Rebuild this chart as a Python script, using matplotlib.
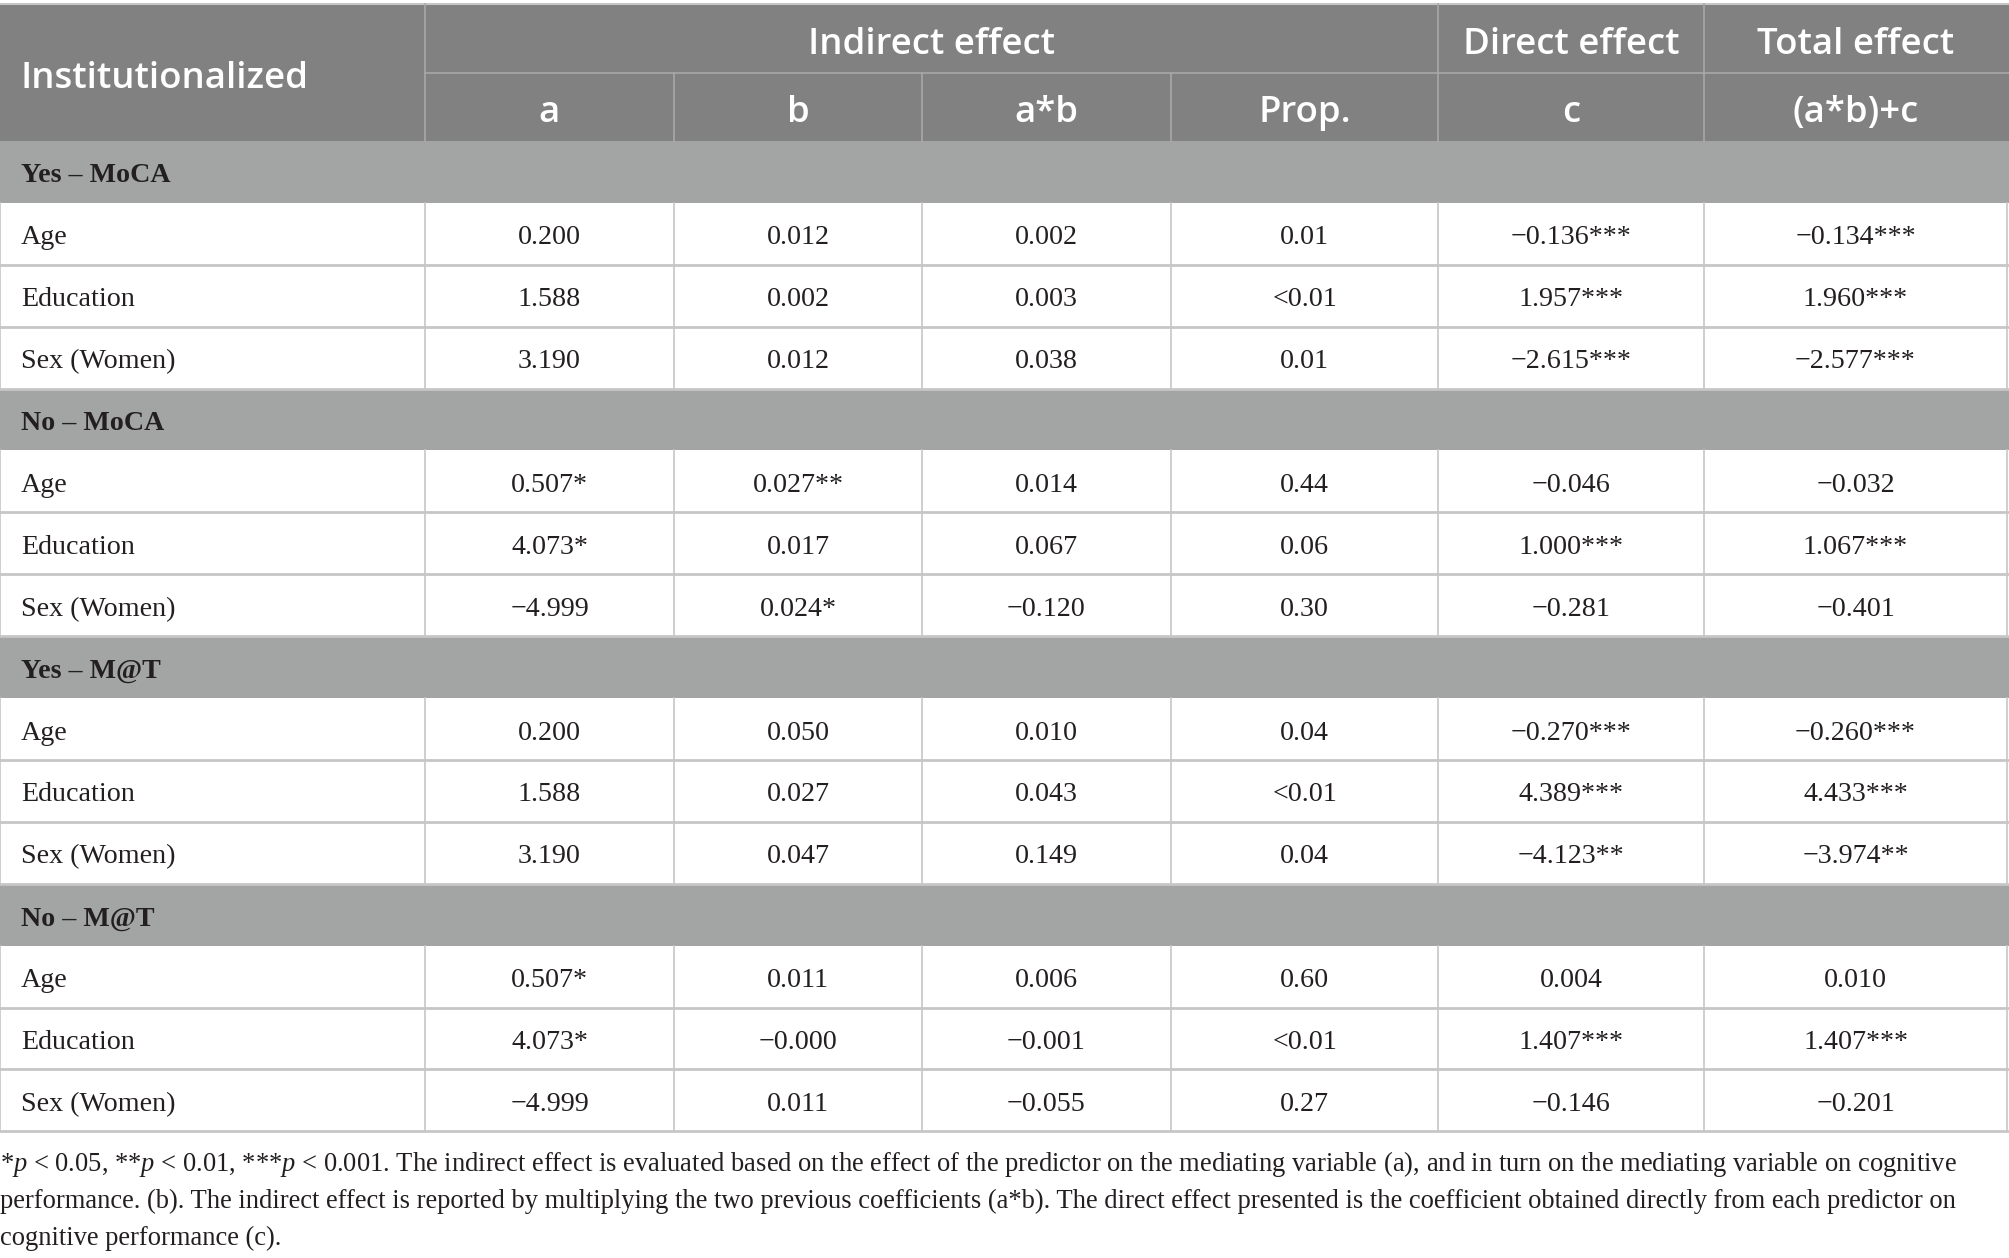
import matplotlib
matplotlib.use("Agg")
import matplotlib.pyplot as plt
from matplotlib.patches import Rectangle

plt.rcParams['mathtext.fontset'] = 'custom'
plt.rcParams['mathtext.rm'] = 'Liberation Serif'
plt.rcParams['mathtext.it'] = 'Liberation Serif:italic'

# table content
groups = ['Yes – MoCA', 'No – MoCA', 'Yes – M@T', 'No – M@T']
predictors = ['Age', 'Education', 'Sex (Women)']

a_vals = ['0.200', '1.588', '3.190',
          '0.507*', '4.073*', '−4.999',
          '0.200', '1.588', '3.190',
          '0.507*', '4.073*', '−4.999']
b_vals = ['0.012', '0.002', '0.012',
          '0.027**', '0.017', '0.024*',
          '0.050', '0.027', '0.047',
          '0.011', '−0.000', '0.011']
ab_vals = ['0.002', '0.003', '0.038',
           '0.014', '0.067', '−0.120',
           '0.010', '0.043', '0.149',
           '0.006', '−0.001', '−0.055']
prop_vals = ['0.01', '<0.01', '0.01',
             '0.44', '0.06', '0.30',
             '0.04', '<0.01', '0.04',
             '0.60', '<0.01', '0.27']
c_vals = ['−0.136***', '1.957***', '−2.615***',
          '−0.046', '1.000***', '−0.281',
          '−0.270***', '4.389***', '−4.123**',
          '0.004', '1.407***', '−0.146']
total_vals = ['−0.134***', '1.960***', '−2.577***',
              '−0.032', '1.067***', '−0.401',
              '−0.260***', '4.433***', '−3.974**',
              '0.010', '1.407***', '−0.201']

sub_headers = ['a', 'b', 'a*b', 'Prop.', 'c', '(a*b)+c']

footnote = [
    '*$p$ < 0.05, **$p$ < 0.01, ***$p$ < 0.001. The indirect effect is evaluated based on the effect of the predictor on the mediating variable (a), and in turn on the mediating variable on cognitive',
    'performance. (b). The indirect effect is reported by multiplying the two previous coefficients (a*b). The direct effect presented is the coefficient obtained directly from each predictor on',
    'cognitive performance (c).',
]

W, H = 2009, 1258
fig = plt.figure(figsize=(W / 100, H / 100), dpi=100)
ax = fig.add_axes([0, 0, 1, 1])
ax.set_xlim(0, W)
ax.set_ylim(H, 0)
ax.axis('off')

head_dark = '#808180'
sect_gray = '#a3a5a4'
grid_col = '#c6c6c6'
txt_col = '#231f20'
px = 0.72  # px -> pt at dpi 100

col_x = [0, 425, 674, 922, 1171, 1438, 1704, W - 2]
top, head_mid, head_bot = 4, 73, 141
row_h = 61.9

# header background
ax.add_patch(Rectangle((0, top), W, head_bot - top, color=head_dark, lw=0))
ax.plot([0, W], [top, top], color=grid_col, lw=1.5)
ax.plot([col_x[1], W], [head_mid, head_mid], color='#a8a8a8', lw=1.2)
for i, x in enumerate(col_x[1:-1], start=1):
    y0 = top if i in (1, 5, 6) else head_mid
    ax.plot([x, x], [y0, head_bot], color='#a8a8a8', lw=1.2)

hfont = dict(family='Open Sans', color='white', fontsize=36.5 * px, va='center',
             fontweight='semibold')
ax.text(21, (top + head_bot) / 2 + 6, 'Institutionalized', ha='left', **hfont)
ax.text((col_x[1] + col_x[5]) / 2, (top + head_mid) / 2 + 6, 'Indirect effect', ha='center', **hfont)
ax.text((col_x[5] + col_x[6]) / 2, (top + head_mid) / 2 + 6, 'Direct effect', ha='center', **hfont)
ax.text((col_x[6] + col_x[7]) / 2, (top + head_mid) / 2 + 6, 'Total effect', ha='center', **hfont)
for j, lab in enumerate(sub_headers):
    ax.text((col_x[j + 1] + col_x[j + 2]) / 2, (head_mid + head_bot) / 2 + 6, lab,
            ha='center', **hfont)

# body
cols = [a_vals, b_vals, ab_vals, prop_vals, c_vals, total_vals]
bfont = dict(family='Liberation Serif', color=txt_col, fontsize=28 * px, va='center')
y = head_bot
k = 0
for g in groups:
    ax.add_patch(Rectangle((0, y), W, row_h, color=sect_gray, lw=0))
    ax.text(21, y + row_h / 2 + 4, g, ha='left', fontweight='bold', **bfont)
    y += row_h
    for p in predictors:
        ax.text(21, y + row_h / 2 + 4, p, ha='left', **bfont)
        for j, vals in enumerate(cols):
            ax.text((col_x[j + 1] + col_x[j + 2]) / 2, y + row_h / 2 + 4, vals[k],
                    ha='center', **bfont)
        for x in col_x:
            ax.plot([x, x], [y, y + row_h], color=grid_col, lw=1.2)
        ax.plot([0, W], [y + row_h, y + row_h], color=grid_col, lw=2)
        y += row_h
        k += 1

# footnote
for i, line in enumerate(footnote):
    ax.text(0, 1164 + i * 37, line, ha='left', va='center',
            family='Liberation Serif', color=txt_col, fontsize=26.5 * px)

fig.savefig('out.png', dpi=100, facecolor='white')
